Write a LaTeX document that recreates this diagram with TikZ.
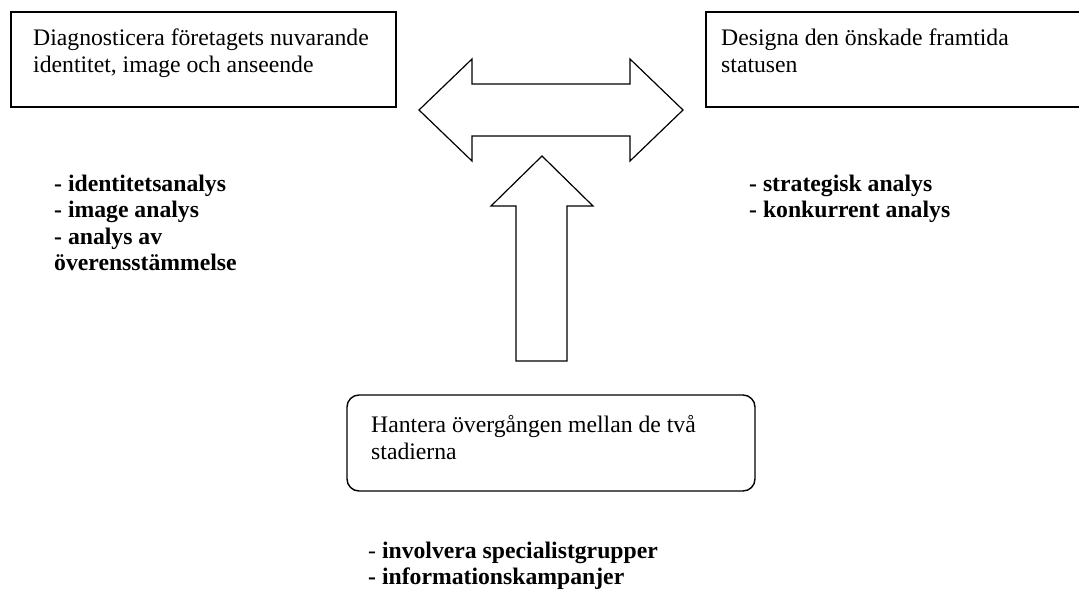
\documentclass[tikz,border=0pt]{standalone}
\usepackage{fontspec}
\setmainfont{Liberation Serif}
\begin{document}
\begin{tikzpicture}[x=1pt,y=-1pt,
  box/.style={draw=black,line width=1.4pt},
  rbox/.style={draw=black,line width=1.4pt,rounded corners=12pt},
  arr/.style={draw=black,line width=1.2pt,line join=miter,fill=white},
  txt/.style={anchor=base west,inner sep=0pt,font=\fontsize{23.7}{27}\selectfont},
  btxt/.style={txt,font=\fontsize{23.7}{27}\selectfont\bfseries}]
\useasboundingbox (0,0) rectangle (1079,598);

% stage boxes
\draw[box] (11,12) rectangle (396,107);
\draw[box] (706,12) rectangle (1090,107);
\draw[rbox] (347,395) rectangle (755,491);

% box texts
\node[txt] (d1) at (33,45) {Diagnosticera företagets nuvarande};
\node[txt] (d2) at (33,72) {identitet, image och anseende};
\node[txt] (f1) at (721,45) {Designa den önskade framtida};
\node[txt] (f2) at (721,72) {statusen};
\node[txt] (h1) at (371,432) {Hantera övergången mellan de två};
\node[txt] (h2) at (371,459) {stadierna};

% block arrows
\draw[arr] (419,110) -- (472,59) -- (472,84) -- (630,84) -- (630,59) -- (683,110)
  -- (630,161) -- (630,136) -- (472,136) -- (472,161) -- cycle;
\draw[arr] (542,156) -- (593,206) -- (567,206) -- (567,361) -- (516,361) -- (516,206)
  -- (491,206) -- cycle;

% method lists
\node[btxt] (a1) at (54,191) {- identitetsanalys};
\node[btxt] (a2) at (54,217.5) {- image analys};
\node[btxt] (a3) at (54,244) {- analys av};
\node[btxt] (a4) at (54,270.5) {överensstämmelse};
\node[btxt] (s1) at (749,191) {- strategisk analys};
\node[btxt] (s2) at (749,217.5) {- konkurrent analys};
\node[txt] (i1) at (368,558) {- \textbf{involvera specialistgrupper}};
\node[btxt] (i2) at (368,584.5) {- informationskampanjer};
\end{tikzpicture}
\end{document}
